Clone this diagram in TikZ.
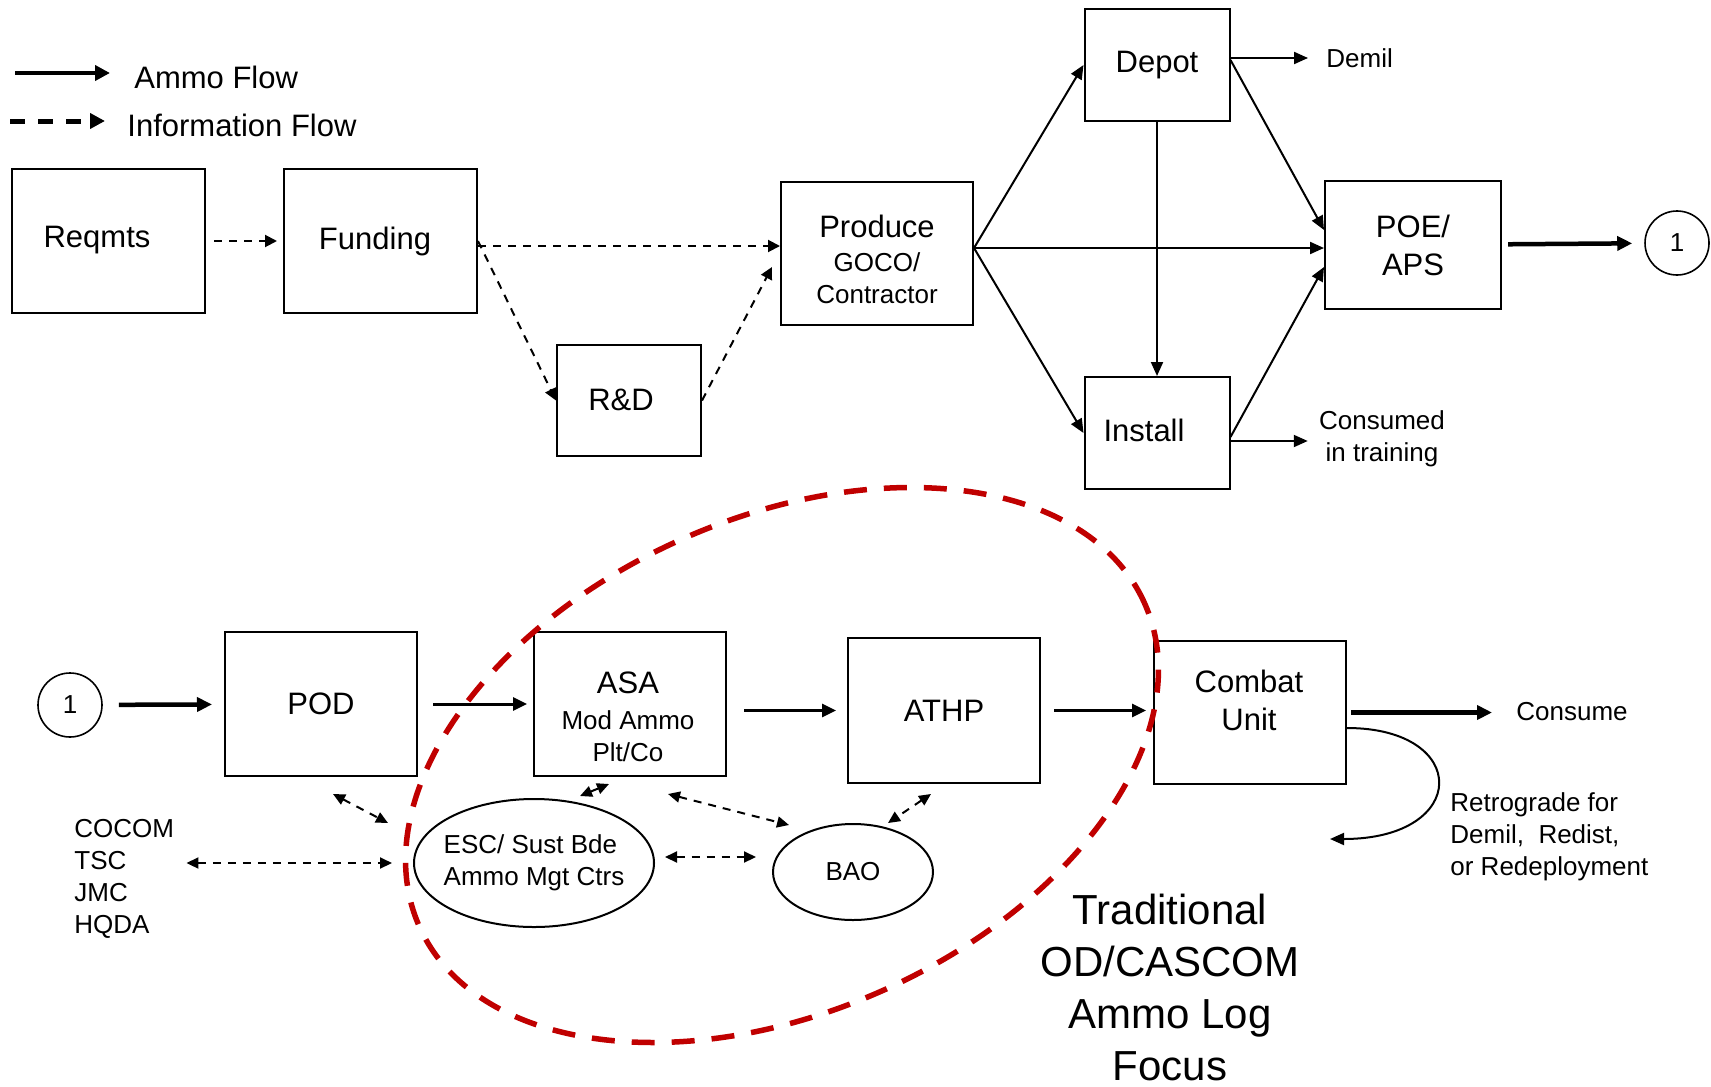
\documentclass[tikz,border=0pt]{standalone}
\usepackage{fontspec}
\setmainfont{Liberation Sans}
\usetikzlibrary{arrows.meta,shapes.geometric,calc}

\newcommand{\bigsz}{\fontsize{15.5}{19}\selectfont}
\newcommand{\medsz}{\fontsize{13}{16}\selectfont}
\newcommand{\focussz}{\fontsize{21}{26}\selectfont}
\definecolor{focusred}{RGB}{192,0,0}

\tikzset{
  box/.style={draw, line width=1pt, inner sep=0pt, align=center, font=\bigsz},
  boxtxt/.style={inner sep=0pt, align=center, font=\bigsz},
  oval/.style={draw, ellipse, line width=1pt, inner sep=0pt, align=left, font=\medsz},
  conn/.style={draw, circle, line width=0.8pt, minimum size=32pt, inner sep=0pt, font=\medsz},
  txt/.style={inner sep=0pt, font=\medsz},
  ammo/.style={line width=1pt, -{Triangle[length=7pt,width=6pt]}},
  ammomid/.style={line width=1.5pt, -{Triangle[length=7pt,width=6.5pt]}},
  ammothick/.style={line width=2.25pt, -{Triangle[length=7.5pt,width=7pt]}},
  info/.style={line width=1pt, dash pattern=on 4pt off 3.5pt, -{Triangle[length=6pt,width=6pt]}},
  infoboth/.style={info, {Triangle[length=6pt,width=5.5pt]}-{Triangle[length=6pt,width=5.5pt]}},
  focusline/.style={draw=focusred, line width=2.75pt, dash pattern=on 11.5pt off 8.5pt}
}

\begin{document}
\begin{tikzpicture}[x=0.5pt, y=-0.5pt]
    \useasboundingbox (0,0) rectangle (1711,1086);

    \coordinate (ammoL) at (15,73);
    \coordinate (infoL) at (10,121);
    \node[txt, font=\bigsz, anchor=west] (ammoTxt) at (134,77) {Ammo Flow};
    \node[txt, font=\bigsz, anchor=west] (infoTxt) at (127,125) {Information Flow};
    \draw[line width=2pt, -{Triangle[length=7.5pt,width=7.5pt]}, shorten >=12pt] (ammoL) -- (ammoL -| ammoTxt.west);
    \draw[line width=2.5pt, dash pattern=on 7.5pt off 6.5pt, -{Triangle[length=7.5pt,width=7.5pt]}, shorten >=11pt] (infoL) -- (infoL -| infoTxt.west);

      \node[box, minimum width=96.5pt, minimum height=72pt] (reqmts) at (108.5,241) {};
      \node[boxtxt] (reqmtsTxt) at (97,240) {Reqmts};
      \node[box, minimum width=96.5pt, minimum height=72pt] (funding) at (380.5,241) {};
      \node[boxtxt] (fundingTxt) at (375,241) {Funding};
      \node[box, minimum width=72pt, minimum height=55.5pt] (rnd) at (629,400.5) {};
      \node[boxtxt] (rndTxt) at (621,400) {R\&D};
      \node[box, minimum width=96pt, minimum height=71.5pt] (produce) at (877,253.5) {};
      \node[boxtxt, font=\medsz] (produceTxt) at (877,259) {{\bigsz Produce}\\[1pt]GOCO/\\Contractor};
      \node[box, minimum width=72.5pt, minimum height=56pt] (depot) at (1157,65) {Depot};
      \node[box, minimum width=72.5pt, minimum height=56pt] (install) at (1157,433) {};
      \node[boxtxt] (installTxt) at (1144,430) {Install};
      \node[box, minimum width=88pt, minimum height=64pt] (poe) at (1413,245) {POE/\\APS};
      \node[conn] (conn1) at (1677,243) {1};
      \node[txt, anchor=west] (demil) at (1326,58) {Demil};
      \node[txt, align=center] (consumed) at (1382,439) {Consumed\\in training};

      \draw[info, shorten <=4pt, shorten >=3pt] (reqmts) -- (funding);
      \coordinate (fundOut) at ([yshift=-2.5pt]funding.east);
      \draw[info] (fundOut) -- (fundOut -| produce.west);
      \draw[info] (funding.east) -- (rnd.west);
      \draw[info] (rnd.east) -- ([shift={(-4pt,-6.75pt)}]produce.west);

      \coordinate (fan) at ([yshift=2.75pt]produce.east);
      \draw[ammo] (fan) -- (depot.west);
      \draw[ammo] (fan) -- (install.west);
      \draw[ammo] (fan) -- (fan -| poe.west);
      \draw[ammo] ([yshift=2.5pt]depot.east) -- ([yshift=7.5pt]poe.west);
      \draw[ammo] ([yshift=-2pt]install.east) -- ([yshift=-11pt]poe.west);
      \draw[ammo] (depot) -- (install);
      \draw[ammo, shorten >=9pt] (demil.west -| depot.east) -- (demil.west);
      \draw[ammo, shorten >=5.5pt] ([yshift=-1pt]consumed.west -| install.east) -- ([yshift=-1pt]consumed.west);
      \draw[ammothick, shorten <=3pt, shorten >=6pt] (poe) -- (conn1);

      \node[conn] (conn2) at (70,705) {1};
      \node[box, minimum width=96pt, minimum height=72pt] (pod) at (321,704) {POD};
      \node[box, minimum width=96pt, minimum height=72pt] (asa) at (630,704) {};
      \node[boxtxt, font=\medsz] (asaTxt) at (628,717) {{\bigsz ASA}\\[2pt]Mod Ammo\\Plt/Co};
      \node[box, minimum width=96pt, minimum height=72.5pt] (athp) at (944,710.5) {ATHP};
      \node[box, minimum width=96pt, minimum height=71.5pt] (combat) at (1250,712.5) {};
      \node[boxtxt] (combatTxt) at (1249,700.5) {Combat\\Unit};
      \node[txt, anchor=west] (consume) at (1516,712) {Consume};
      \node[txt, align=left, anchor=west] (retro) at (1450,837) {Retrograde for\\Demil,\ \ Redist,\\or Redeployment};
      \node[oval, inner xsep=-6pt, minimum width=120pt, minimum height=64pt] (esc) at (534,863) {ESC/ Sust Bde\\Ammo Mgt Ctrs};
      \node[oval, minimum width=80pt, minimum height=48pt] (bao) at (853,872) {BAO};
      \node[txt, align=left, anchor=west] (hq) at (74,879) {COCOM\\TSC\\JMC\\HQDA};
      \node[txt, font=\focussz, align=center] (focus) at (1170,987) {Traditional\\OD/CASCOM\\Ammo Log\\Focus};

      \draw[ammothick, shorten <=8pt, shorten >=6pt] (conn2) -- (pod);
      \draw[ammomid, shorten <=7.5pt, shorten >=3pt] (pod) -- (asa);
      \draw[ammomid, shorten <=8.5pt, shorten >=5.5pt] (athp.west -| asa.east) -- (athp.west);
      \draw[ammomid, shorten <=6.5pt, shorten >=3.5pt] (athp.east) -- (athp.east -| combat.west);
      \draw[ammothick, shorten <=2pt, shorten >=12pt] (combat.east) -- (combat.east -| consume.west);
      \coordinate (retroEnd) at (1330,839);
      \draw[ammo] ([yshift=-7.75pt]combat.east) .. controls +(124,0) and +(140,0) .. (retroEnd);

      \draw[infoboth, shorten <=6pt, shorten >=10.5pt] (esc.west -| hq.east) -- (esc.west);
      \draw[infoboth] ([shift={(6pt,-8.5pt)}]pod.south) -- ([shift={(-73pt,20pt)}]esc.center);
      \draw[infoboth] ([shift={(23pt,1pt)}]esc.north) -- ([shift={(-10.5pt,-3.5pt)}]asa.south);
      \draw[infoboth] ([shift={(-29.5pt,-8.5pt)}]asa.south east) -- ([shift={(-32pt,23.5pt)}]bao.center);
      \draw[infoboth] ([shift={(-6.5pt,-5pt)}]athp.south) -- ([xshift=17.5pt]bao.north);
      \draw[infoboth, shorten <=5pt, shorten >=8pt] ([yshift=3pt]esc.east) -- ([yshift=3pt]esc.east -| bao.west);

      \draw[focusline, rotate around={24:(782,765)}] (782,765) ellipse [x radius=198.5pt, y radius=123.5pt];
\end{tikzpicture}
\end{document}
